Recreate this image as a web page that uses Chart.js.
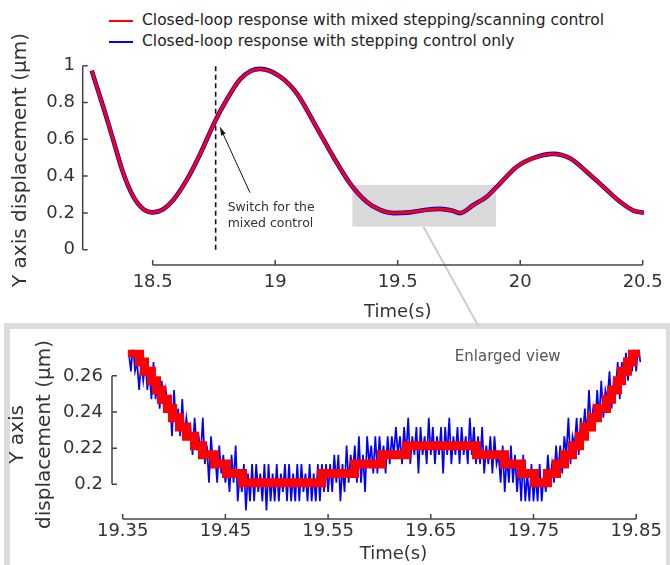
<!DOCTYPE html>
<html>
<head>
<meta charset="utf-8">
<script src="https://cdn.jsdelivr.net/npm/chart.js@4.4.1/dist/chart.umd.min.js"></script>
<style>
  html, body { margin: 0; padding: 0; background: #fff; }
  body { width: 670px; height: 565px; position: relative; overflow: hidden; font-family: "DejaVu Sans", sans-serif; }
  #topChart { position: absolute; left: 0; top: 0; }
  #zoomChart { position: absolute; left: 0; top: 330px; }
  .frame { position: absolute; left: 4px; top: 323px; width: 668px; height: 270px; box-sizing: border-box; border: 6px solid #dcdcdc; }
  .legend-row { position: absolute; left: 109px; height: 20px; line-height: 20px; font-size: 15.5px; color: #222; white-space: nowrap; }
  .legend-row i { display: inline-block; width: 24px; height: 2px; vertical-align: middle; margin-right: 9px; }
</style>
</head>
<body>
<div class="frame"></div>
<div class="legend-row" style="top:10px"><i style="background:#ff0000"></i>Closed-loop response with mixed stepping/scanning control</div>
<div class="legend-row" style="top:31px"><i style="background:#0000ff"></i>Closed-loop response with stepping control only</div>
<canvas id="topChart" width="670" height="330"></canvas>
<canvas id="zoomChart" width="670" height="235"></canvas>
<script>
// ---- top panel: whole response (s, um)
const topTime = [18.251, 18.298, 18.339, 18.380, 18.421, 18.462, 18.502, 18.543, 18.584, 18.639,
  18.693, 18.757, 18.802, 18.856, 18.900, 18.938, 19.020, 19.088, 19.169, 19.237, 19.305,
  19.373, 19.428, 19.482, 19.550, 19.618, 19.673, 19.720, 19.754, 19.809, 19.863,
  19.918, 19.986, 20.053, 20.135, 20.203, 20.271, 20.339, 20.407, 20.462, 20.505];
const redTop = [0.973, 0.777, 0.596, 0.415, 0.288, 0.220, 0.203, 0.220, 0.270, 0.379,
  0.518, 0.705, 0.815, 0.925, 0.970, 0.982, 0.940, 0.850, 0.665, 0.505, 0.361,
  0.261, 0.216, 0.200, 0.203, 0.216, 0.221, 0.213, 0.200, 0.243, 0.288,
  0.361, 0.451, 0.497, 0.520, 0.497, 0.424, 0.342, 0.261, 0.212, 0.200];
// blue trace sits right under the red one at this scale
const blueTop = [0.973, 0.777, 0.596, 0.415, 0.288, 0.220, 0.203, 0.220, 0.270, 0.379,
  0.518, 0.705, 0.815, 0.925, 0.971, 0.983, 0.941, 0.850, 0.665, 0.505, 0.361,
  0.261, 0.216, 0.199, 0.203, 0.217, 0.222, 0.213, 0.199, 0.243, 0.288,
  0.361, 0.451, 0.498, 0.521, 0.497, 0.424, 0.342, 0.261, 0.212, 0.200];
const topXTicks = [18.5, 19, 19.5, 20, 20.5];
const topYTicks = [0, 0.2, 0.4, 0.6, 0.8, 1];
const switchTime = 18.757;
const zoomT = [19.315, 19.901];
const zoomV = [0.126, 0.352];

// ---- enlarged view 19.35 - 19.85 s
const stepTime = [19.3550, 19.3664, 19.3712, 19.3780, 19.3829, 19.3878, 19.3936, 19.3985, 19.4053, 19.4121,
  19.4199, 19.4277, 19.4394, 19.4511, 19.4667, 19.5436, 19.5757, 19.6020, 19.6263, 19.6945,
  19.7218, 19.7383, 19.7510, 19.7636, 19.7724, 19.7802, 19.7880, 19.7948, 19.7997, 19.8065,
  19.8123, 19.8211, 19.8260, 19.8318, 19.8357, 19.8415, 19.8464, 19.8537];
const stepValue = [0.2727, 0.2676, 0.2625, 0.2573, 0.2522, 0.2471, 0.2419, 0.2368, 0.2317, 0.2266,
  0.2214, 0.2163, 0.2112, 0.2060, 0.2009, 0.2060, 0.2112, 0.2163, 0.2214, 0.2163,
  0.2112, 0.2060, 0.2009, 0.2060, 0.2112, 0.2163, 0.2214, 0.2266, 0.2317, 0.2368,
  0.2419, 0.2471, 0.2522, 0.2573, 0.2625, 0.2676, 0.2727, 0.2727];
const blueTime = [
  19.356, 19.358, 19.360, 19.362, 19.364, 19.366, 19.368, 19.370, 19.372, 19.374,
  19.376, 19.378, 19.380, 19.382, 19.384, 19.386, 19.388, 19.390, 19.392, 19.394,
  19.396, 19.398, 19.400, 19.402, 19.404, 19.406, 19.408, 19.410, 19.412, 19.414,
  19.416, 19.418, 19.420, 19.422, 19.424, 19.426, 19.428, 19.430, 19.432, 19.434,
  19.436, 19.438, 19.440, 19.442, 19.444, 19.446, 19.448, 19.450, 19.452, 19.454,
  19.456, 19.458, 19.460, 19.462, 19.464, 19.466, 19.468, 19.470, 19.472, 19.474,
  19.476, 19.478, 19.480, 19.482, 19.484, 19.486, 19.488, 19.490, 19.492, 19.494,
  19.496, 19.498, 19.500, 19.502, 19.504, 19.506, 19.508, 19.510, 19.512, 19.514,
  19.516, 19.518, 19.520, 19.522, 19.524, 19.526, 19.528, 19.530, 19.532, 19.534,
  19.536, 19.538, 19.540, 19.542, 19.544, 19.546, 19.548, 19.550, 19.552, 19.554,
  19.556, 19.558, 19.560, 19.562, 19.564, 19.566, 19.568, 19.570, 19.572, 19.574,
  19.576, 19.578, 19.580, 19.582, 19.584, 19.586, 19.588, 19.590, 19.592, 19.594,
  19.596, 19.598, 19.600, 19.602, 19.604, 19.606, 19.608, 19.610, 19.612, 19.614,
  19.616, 19.618, 19.620, 19.622, 19.624, 19.626, 19.628, 19.630, 19.632, 19.634,
  19.636, 19.638, 19.640, 19.642, 19.644, 19.646, 19.648, 19.650, 19.652, 19.654,
  19.656, 19.658, 19.660, 19.662, 19.664, 19.666, 19.668, 19.670, 19.672, 19.674,
  19.676, 19.678, 19.680, 19.682, 19.684, 19.686, 19.688, 19.690, 19.692, 19.694,
  19.696, 19.698, 19.700, 19.702, 19.704, 19.706, 19.708, 19.710, 19.712, 19.714,
  19.716, 19.718, 19.720, 19.722, 19.724, 19.726, 19.728, 19.730, 19.732, 19.734,
  19.736, 19.738, 19.740, 19.742, 19.744, 19.746, 19.748, 19.750, 19.752, 19.754,
  19.756, 19.758, 19.760, 19.762, 19.764, 19.766, 19.768, 19.770, 19.772, 19.774,
  19.776, 19.778, 19.780, 19.782, 19.784, 19.786, 19.788, 19.790, 19.792, 19.794,
  19.796, 19.798, 19.800, 19.802, 19.804, 19.806, 19.808, 19.810, 19.812, 19.814,
  19.816, 19.818, 19.820, 19.822, 19.824, 19.826, 19.828, 19.830, 19.832, 19.834,
  19.836, 19.838, 19.840, 19.842, 19.844, 19.846, 19.848, 19.850, 19.852, 19.854];
const blueValue = [
  0.2727, 0.2625, 0.2778, 0.2625, 0.2676, 0.2522, 0.2676, 0.2573, 0.2676, 0.2522,
  0.2625, 0.2471, 0.2676, 0.2471, 0.2573, 0.2419, 0.2573, 0.2419, 0.2522, 0.2419,
  0.2471, 0.2266, 0.2522, 0.2317, 0.2419, 0.2266, 0.2471, 0.2266, 0.2368, 0.2266,
  0.2317, 0.2163, 0.2368, 0.2214, 0.2266, 0.2163, 0.2368, 0.2112, 0.2214, 0.2009,
  0.2266, 0.2112, 0.2163, 0.2009, 0.2214, 0.2060, 0.2163, 0.2009, 0.2112, 0.1958,
  0.2163, 0.2009, 0.2214, 0.1906, 0.2060, 0.1958, 0.2112, 0.1855, 0.2060, 0.1906,
  0.2112, 0.1906, 0.2112, 0.1958, 0.2060, 0.1906, 0.2112, 0.1855, 0.2112, 0.1906,
  0.2060, 0.1906, 0.2112, 0.1906, 0.2060, 0.1958, 0.2112, 0.1906, 0.2112, 0.1906,
  0.2060, 0.1906, 0.2112, 0.1906, 0.2112, 0.1958, 0.2060, 0.1906, 0.2112, 0.1906,
  0.2060, 0.1906, 0.2112, 0.1906, 0.2112, 0.1958, 0.2112, 0.1958, 0.2112, 0.1958,
  0.2163, 0.2009, 0.2163, 0.1906, 0.2112, 0.1958, 0.2214, 0.2009, 0.2163, 0.2060,
  0.2214, 0.2009, 0.2266, 0.2009, 0.2163, 0.1958, 0.2266, 0.2112, 0.2214, 0.2060,
  0.2266, 0.2060, 0.2266, 0.2112, 0.2214, 0.2060, 0.2266, 0.2112, 0.2266, 0.2163,
  0.2317, 0.2163, 0.2266, 0.2112, 0.2317, 0.2163, 0.2368, 0.2112, 0.2266, 0.2163,
  0.2317, 0.2060, 0.2317, 0.2163, 0.2266, 0.2112, 0.2368, 0.2163, 0.2317, 0.2112,
  0.2266, 0.2163, 0.2317, 0.2060, 0.2317, 0.2163, 0.2368, 0.2112, 0.2266, 0.2163,
  0.2317, 0.2112, 0.2317, 0.2163, 0.2266, 0.2112, 0.2368, 0.2163, 0.2317, 0.2112,
  0.2266, 0.2112, 0.2317, 0.2060, 0.2214, 0.2112, 0.2266, 0.2060, 0.2266, 0.2112,
  0.2163, 0.2009, 0.2214, 0.1958, 0.2163, 0.2009, 0.2214, 0.2009, 0.2163, 0.1958,
  0.2112, 0.1906, 0.2163, 0.1906, 0.2060, 0.1906, 0.2112, 0.1906, 0.2060, 0.1906,
  0.2112, 0.1906, 0.2060, 0.1958, 0.2163, 0.2009, 0.2112, 0.2009, 0.2214, 0.2060,
  0.2214, 0.2060, 0.2266, 0.2163, 0.2368, 0.2112, 0.2266, 0.2214, 0.2368, 0.2163,
  0.2368, 0.2266, 0.2419, 0.2266, 0.2522, 0.2317, 0.2419, 0.2317, 0.2522, 0.2368,
  0.2573, 0.2368, 0.2522, 0.2471, 0.2625, 0.2419, 0.2573, 0.2522, 0.2676, 0.2471,
  0.2676, 0.2573, 0.2727, 0.2573, 0.2727, 0.2625, 0.2778, 0.2625, 0.2778, 0.2676];
const zoomXTicks = [19.35, 19.45, 19.55, 19.65, 19.75, 19.85];
const zoomYTicks = [0.2, 0.22, 0.24, 0.26];

Chart.defaults.font.family = '"DejaVu Sans", sans-serif';
Chart.defaults.color = '#333';

const pts = (xs, ys) => xs.map((t, i) => ({ x: t, y: ys[i] }));

function xAxis(min, max, ticks, pad, height) {
  return {
    type: 'linear', min, max, bounds: 'data',
    grid: { display: false, drawTicks: false },
    border: { display: false },
    ticks: { autoSkip: false, maxRotation: 0, padding: pad, font: { size: 18 }, color: '#333', callback: v => String(v) },
    afterBuildTicks: s => { s.ticks = ticks.map(v => ({ value: v })); },
    afterFit: s => { s.height = height; }
  };
}
function yAxis(min, max, ticks, pad, width, title) {
  return {
    type: 'linear', min, max, bounds: 'data',
    grid: { display: false, drawTicks: false },
    border: { display: false },
    ticks: { autoSkip: false, padding: pad, font: { size: 18 }, color: '#333', callback: v => String(v) },
    title: title,
    afterBuildTicks: s => { s.ticks = ticks.map(v => ({ value: v })); },
    afterFit: s => { s.width = width; }
  };
}

// MATLAB style axes: lines only between first and last tick, ticks pointing in
const axisLines = {
  id: 'axisLines',
  afterDatasetsDraw(chart) {
    const { ctx, chartArea, scales: { x, y } } = chart;
    const xp = x.ticks.map(t => x.getPixelForValue(t.value));
    const yp = y.ticks.map(t => y.getPixelForValue(t.value));
    const b = chartArea.bottom, l = chartArea.left;
    ctx.save();
    ctx.strokeStyle = '#444';
    ctx.lineWidth = 1.5;
    ctx.beginPath();
    ctx.moveTo(xp[0], b); ctx.lineTo(xp[xp.length - 1], b);
    xp.forEach(p => { ctx.moveTo(p, b); ctx.lineTo(p, b - 5); });
    ctx.moveTo(l, yp[0]); ctx.lineTo(l, yp[yp.length - 1]);
    yp.forEach(p => { ctx.moveTo(l, p); ctx.lineTo(l + 5, p); });
    ctx.stroke();
    ctx.restore();
  }
};

function axisTitle(ctx, text, px, py) {
  ctx.save();
  ctx.font = '18px "DejaVu Sans"';
  ctx.fillStyle = '#333';
  ctx.textAlign = 'center';
  ctx.textBaseline = 'middle';
  ctx.fillText(text, px, py);
  ctx.restore();
}

const topDecor = {
  id: 'topDecor',
  beforeDatasetsDraw(chart) {
    const { ctx, scales: { x, y } } = chart;
    const x0 = x.getPixelForValue(zoomT[0]), x1 = x.getPixelForValue(zoomT[1]);
    const y0 = y.getPixelForValue(zoomV[1]), y1 = y.getPixelForValue(zoomV[0]);
    ctx.save();
    ctx.fillStyle = '#d9d9da';
    ctx.fillRect(x0, y0, x1 - x0, y1 - y0);
    ctx.strokeStyle = '#cdcdcd';
    ctx.lineWidth = 2;
    ctx.beginPath();
    ctx.moveTo(x.getPixelForValue(19.6045), y1);
    ctx.lineTo(479, 327);
    ctx.stroke();
    ctx.restore();
  },
  afterDatasetsDraw(chart) {
    const { ctx, chartArea, scales: { x, y } } = chart;
    // arrow to the switch point
    const fx = x.getPixelForValue(18.897), fy = y.getPixelForValue(0.31);
    const tx = x.getPixelForValue(18.775), ty = y.getPixelForValue(0.665);
    const a = Math.atan2(ty - fy, tx - fx);
    ctx.save();
    ctx.strokeStyle = '#111';
    ctx.fillStyle = '#111';
    ctx.lineWidth = 1;
    ctx.beginPath(); ctx.moveTo(fx, fy); ctx.lineTo(tx, ty); ctx.stroke();
    ctx.beginPath();
    ctx.moveTo(tx, ty);
    ctx.lineTo(tx - 8 * Math.cos(a) + 2.5 * Math.sin(a), ty - 8 * Math.sin(a) - 2.5 * Math.cos(a));
    ctx.lineTo(tx - 8 * Math.cos(a) - 2.5 * Math.sin(a), ty - 8 * Math.sin(a) + 2.5 * Math.cos(a));
    ctx.closePath(); ctx.fill();
    ctx.font = '12.5px "DejaVu Sans"';
    ctx.fillStyle = '#333';
    ctx.textBaseline = 'middle';
    ctx.fillText('Switch for the', x.getPixelForValue(18.806), y.getPixelForValue(0.2266));
    ctx.fillText('mixed control', x.getPixelForValue(18.806), y.getPixelForValue(0.1397));
    ctx.restore();
    const mid = (x.getPixelForValue(topXTicks[0]) + x.getPixelForValue(topXTicks[topXTicks.length - 1])) / 2;
    axisTitle(ctx, 'Time(s)', mid, chartArea.bottom + 47.5);
  }
};

const zoomDecor = {
  id: 'zoomDecor',
  afterDatasetsDraw(chart) {
    const { ctx, chartArea, scales: { x, y } } = chart;
    ctx.save();
    ctx.font = '15px "DejaVu Sans"';
    ctx.fillStyle = '#555';
    ctx.textAlign = 'center';
    ctx.textBaseline = 'middle';
    ctx.fillText('Enlarged view', x.getPixelForValue(19.7249), y.getPixelForValue(0.2703));
    ctx.restore();
    const mid = (x.getPixelForValue(zoomXTicks[0]) + x.getPixelForValue(zoomXTicks[zoomXTicks.length - 1])) / 2;
    axisTitle(ctx, 'Time(s)', mid + 14, chartArea.bottom + 35);
  }
};

new Chart(document.getElementById('topChart'), {
  type: 'line',
  data: {
    datasets: [
      { label: 'Closed-loop response with mixed stepping/scanning control', data: pts(topTime, redTop),
        borderColor: '#ff0000', borderWidth: 3, pointRadius: 0, cubicInterpolationMode: 'monotone', order: 1 },
      { label: 'Closed-loop response with stepping control only', data: pts(topTime, blueTop),
        borderColor: '#0000ff', borderWidth: 4.6, pointRadius: 0, cubicInterpolationMode: 'monotone', order: 2 },
      { label: 'switch', data: [{ x: switchTime, y: 0 }, { x: switchTime, y: 1 }],
        borderColor: '#111', borderWidth: 1.6, borderDash: [5, 3.5], pointRadius: 0, order: 3 }
    ]
  },
  options: {
    responsive: false, animation: false, events: [],
    layout: { padding: { top: 55, right: 22.4, bottom: 0, left: 0 } },
    plugins: { legend: { display: false }, tooltip: { enabled: false } },
    scales: {
      x: xAxis(18.2143, 20.52, topXTicks, 6.2, 65),
      y: yAxis(-0.08315, 1.05815, topYTicks, 7.7, 82.7,
        { display: true, text: 'Y axis displacement (μm)', font: { size: 20 }, color: '#333', padding: { top: 9, bottom: 0 } })
    }
  },
  plugins: [axisLines, topDecor]
});

new Chart(document.getElementById('zoomChart'), {
  type: 'line',
  data: {
    datasets: [
      { label: 'mixed', data: pts(stepTime, stepValue), stepped: true,
        borderColor: '#ff0000', borderWidth: 9, pointRadius: 0, clip: 0, order: 1 },
      { label: 'stepping', data: pts(blueTime, blueValue),
        borderColor: '#0000ff', borderWidth: 1.7, pointRadius: 0, clip: 0, order: 2 }
    ]
  },
  options: {
    responsive: false, animation: false, events: [],
    layout: { padding: { top: 7, right: 25, bottom: 0, left: 0 } },
    plugins: { legend: { display: false }, tooltip: { enabled: false } },
    scales: {
      x: xAxis(19.33958, 19.85857, zoomXTicks, 1.9, 46),
      y: yAxis(0.18082, 0.2744, zoomYTicks, 9, 112,
        { display: true, text: ['Y axis', 'displacement (μm)'], font: { size: 20, lineHeight: 1.35 }, color: '#333', padding: { top: 4.5, bottom: 0 } })
    }
  },
  plugins: [axisLines, zoomDecor]
});
</script>
</body>
</html>
